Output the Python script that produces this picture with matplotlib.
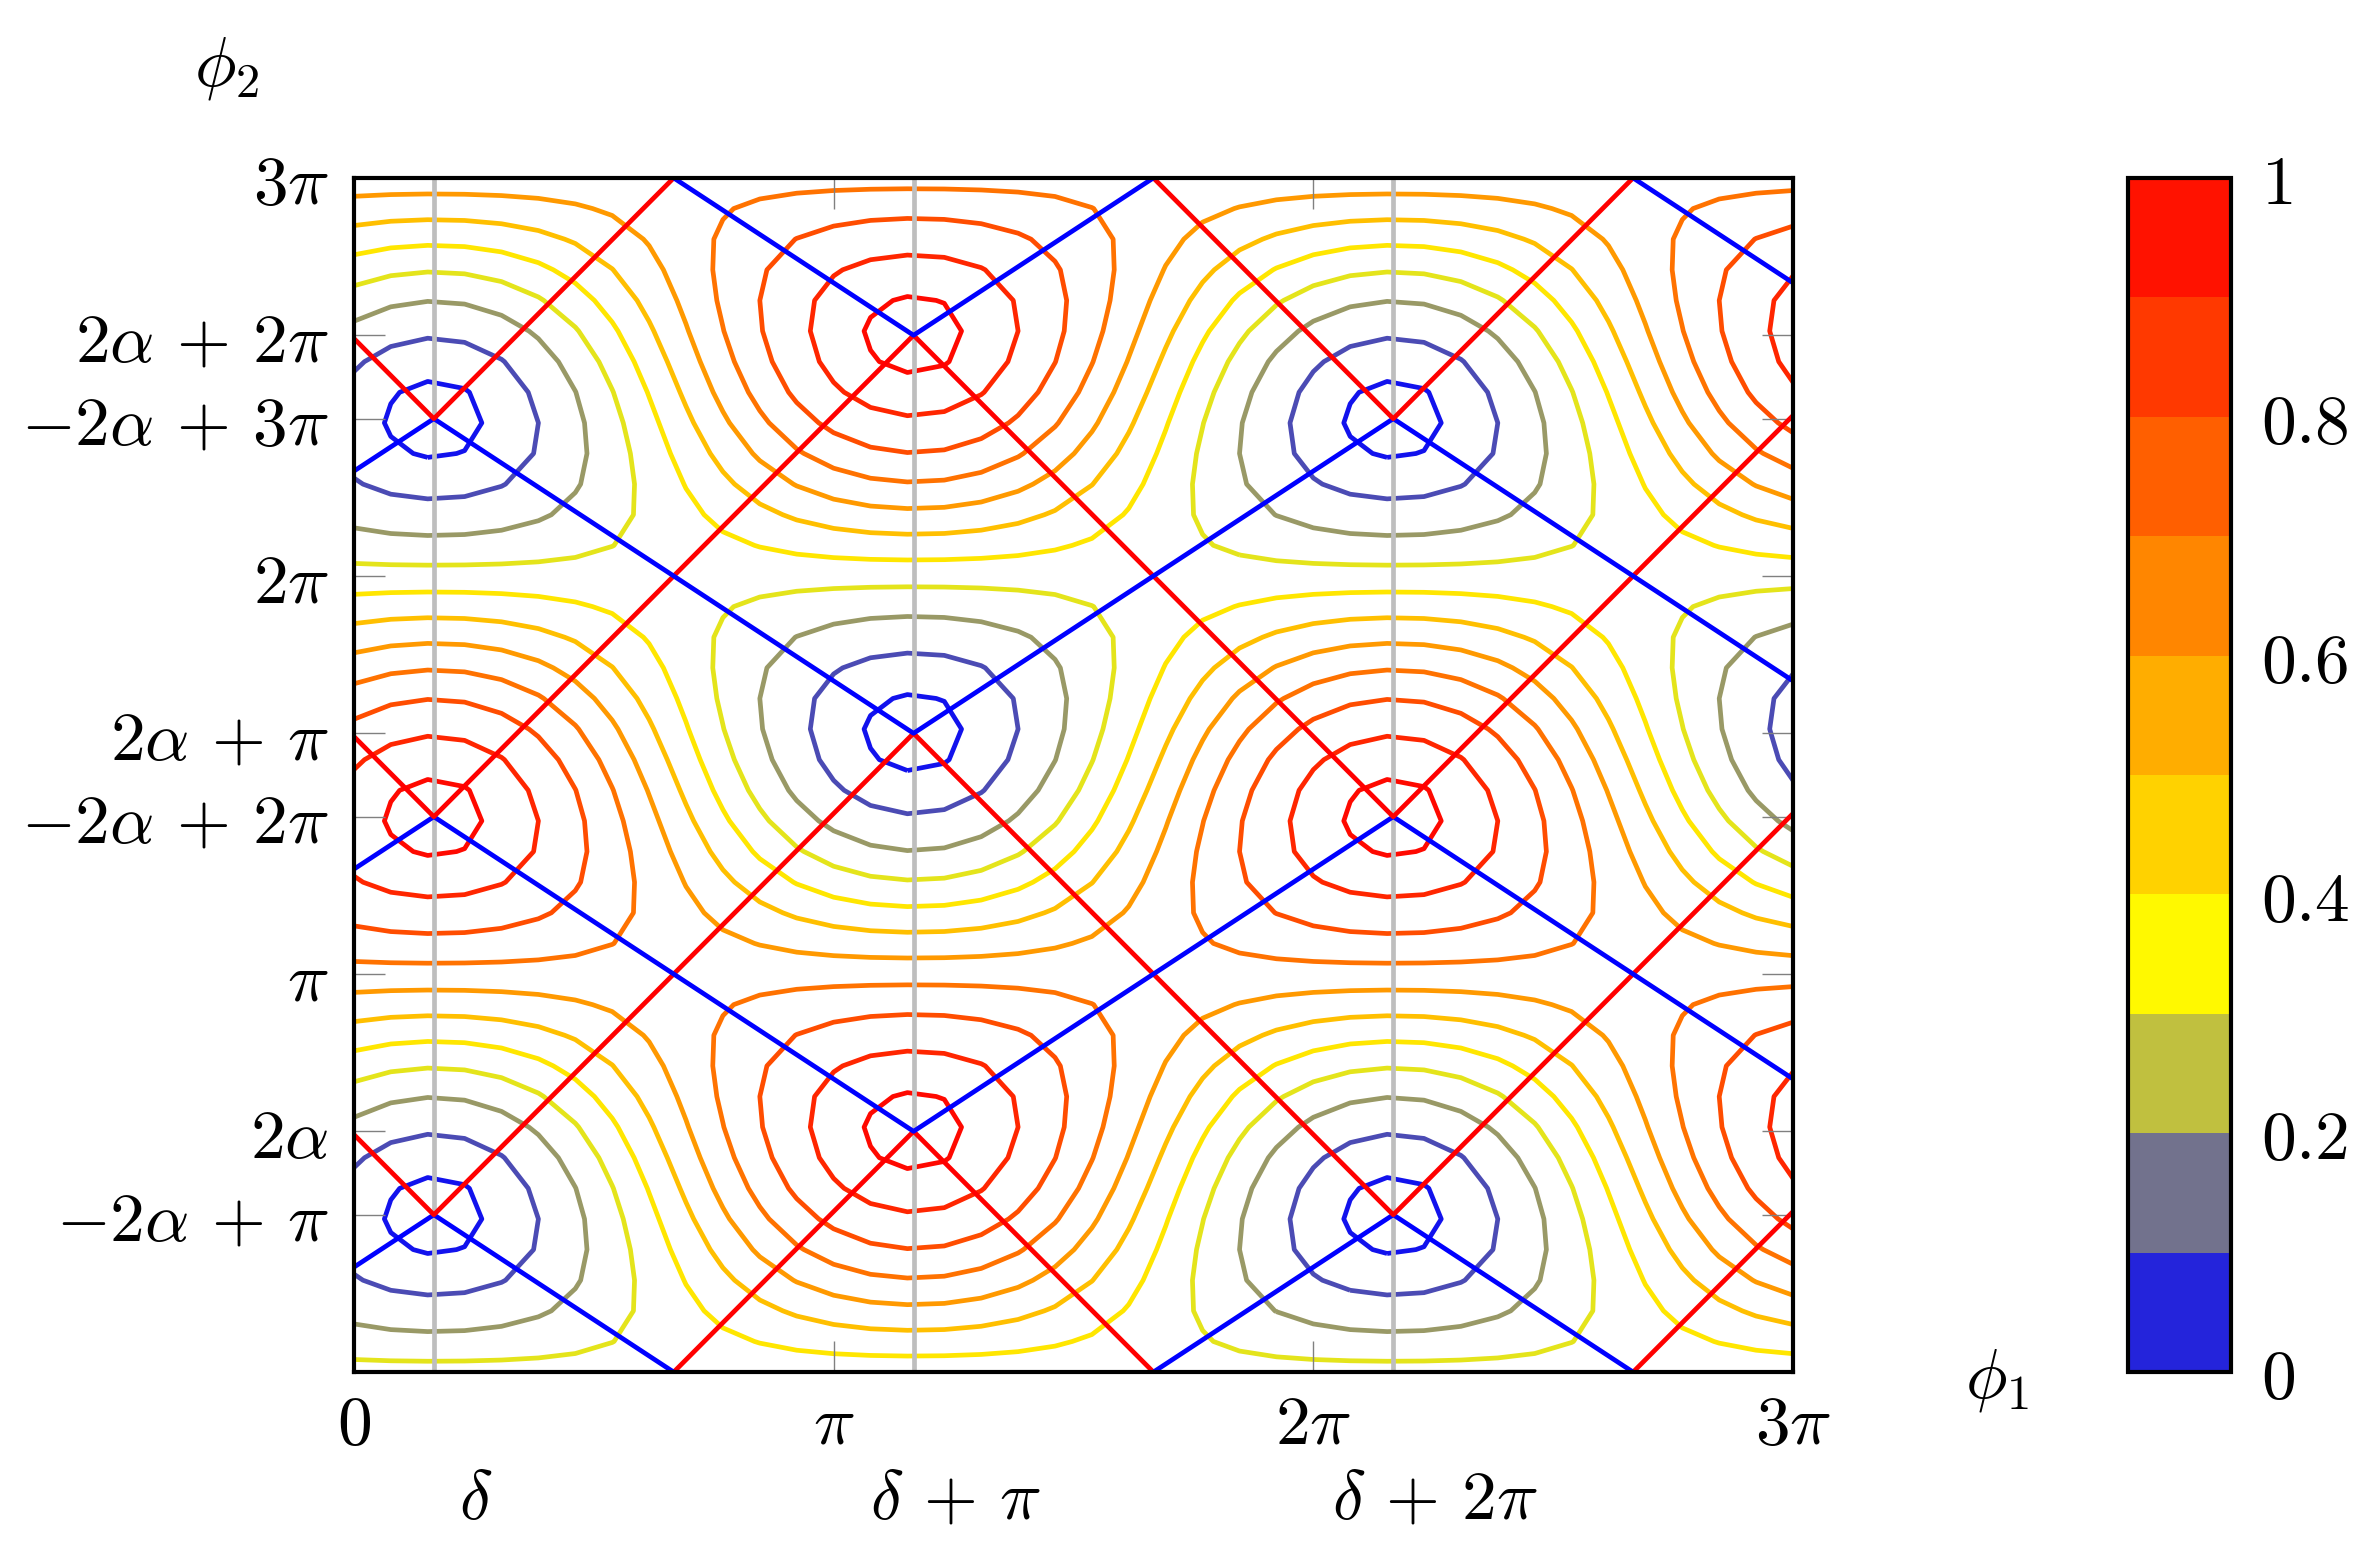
"""Contour map of f(phi1, phi2) with the red/blue zigzag lines and a banded colorbar."""

import numpy as np
import matplotlib
matplotlib.use("Agg")
import matplotlib.pyplot as plt
import matplotlib.transforms as mtransforms
from matplotlib.colors import LinearSegmentedColormap, ListedColormap, BoundaryNorm
from matplotlib.cm import ScalarMappable

plt.rcParams["mathtext.fontset"] = "cm"
plt.rcParams["font.family"] = ["DejaVu Serif"]

# parameters
DELTA = np.pi / 6
ALPHA = 0.95
N_SAMPLES = 40
LEVELS = [0.025, 0.1, 0.2, 0.3, 0.4, 0.5, 0.6, 0.7, 0.8, 0.9, 0.975]

X_TICKS = [0, np.pi, 2 * np.pi, 3 * np.pi]
X_LABELS = [r"$0$", r"$\pi$", r"$2\pi$", r"$3\pi$"]
DELTA_TICKS = [DELTA, DELTA + np.pi, DELTA + 2 * np.pi]
DELTA_LABELS = [r"$\delta$", r"$\delta\,+\,\pi$", r"$\delta\,+\,2\pi$"]
Y_TICKS = [2 * ALPHA, np.pi - 2 * ALPHA, np.pi, 2 * ALPHA + np.pi,
           2 * np.pi - 2 * ALPHA, 2 * np.pi, 2 * ALPHA + 2 * np.pi,
           3 * np.pi - 2 * ALPHA, 3 * np.pi]
Y_LABELS = [r"$2\alpha$", r"$-2\alpha\,+\,\pi$", r"$\pi$", r"$2\alpha\,+\,\pi$",
            r"$-2\alpha\,+\,2\pi$", r"$2\pi$", r"$2\alpha\,+\,2\pi$",
            r"$-2\alpha\,+\,3\pi$", r"$3\pi$"]
CBAR_TICKS = [0, 0.2, 0.4, 0.6, 0.8, 1]
CBAR_LABELS = [r"$0$", r"$0.2$", r"$0.4$", r"$0.6$", r"$0.8$", r"$1$"]
LINE_OFFSETS = range(-1, 5)

FS = 25
LW = 1.7

cmap = LinearSegmentedColormap.from_list(
    "byr", [(0, "#0000ff"), (1 / 3, "#ffff00"), (1, "#ff0000")])
band_cmap = ListedColormap([cmap((i + 0.5) / 10) for i in range(10)])
band_norm = BoundaryNorm(np.linspace(0, 1, 11), 10)

phi = np.linspace(0, 3 * np.pi, N_SAMPLES)
P1, P2 = np.meshgrid(phi, phi)
F = 0.5 * (1 + np.cos(2 * ALPHA) * np.cos(P2)
           - np.sin(2 * ALPHA) * np.cos(P1 - DELTA) * np.sin(P2))


def tri(x):
    u = np.mod((x - DELTA) / np.pi, 2)
    return 1 - 2 * np.abs(u - 1)


fig = plt.figure(figsize=(11.86, 7.73), dpi=200)
ax = fig.add_axes([0.1492, 0.1125, 0.6067, 0.7724])
cax = fig.add_axes([0.8971, 0.1125, 0.0434, 0.7724])

ax.contour(P1, P2, F, levels=LEVELS, cmap=cmap, vmin=0, vmax=1,
           linewidths=LW, zorder=1)

for x in DELTA_TICKS:
    ax.axvline(x, color="#bebebe", lw=LW, zorder=2)

xs = np.sort(np.r_[0, 3 * np.pi, DELTA_TICKS])
for n in LINE_OFFSETS:
    ax.plot(xs, n * np.pi + 2 * ALPHA * tri(xs), color="#ff0000", lw=LW, zorder=3)
    ax.plot(xs, n * np.pi - (np.pi - 2 * ALPHA) * tri(xs), color="#0000ff", lw=LW, zorder=3)

ax.set_xlim(0, 3 * np.pi)
ax.set_ylim(0, 3 * np.pi)
ax.set_xticks(X_TICKS)
ax.set_xticklabels(X_LABELS, fontsize=FS)
ax.set_xticks(DELTA_TICKS, minor=True)
ax.set_yticks(Y_TICKS)
ax.set_yticklabels(Y_LABELS, fontsize=FS)
ax.tick_params(which="both", direction="in", length=11, width=0.5, color="#808080",
               top=True, right=True)
ax.tick_params(axis="x", pad=7)
ax.tick_params(axis="y", pad=9)
for s in ax.spines.values():
    s.set_linewidth(1.5)
    s.set_zorder(5)

sec = ax.secondary_xaxis("bottom")
sec.set_xticks(DELTA_TICKS)
sec.set_xticklabels(DELTA_LABELS, fontsize=FS)
sec.tick_params(length=0, pad=34)
sec.spines["bottom"].set_visible(False)
shift = mtransforms.ScaledTranslation(0.21, 0, fig.dpi_scale_trans)
for lab in sec.get_xticklabels():
    lab.set_transform(lab.get_transform() + shift)

fig.text(227 / 2372, 1 - 68 / 1546, r"$\phi_2$", fontsize=FS, ha="center", va="center")
fig.text(1997 / 2372, 1 - 1380 / 1546, r"$\phi_1$", fontsize=FS, ha="center", va="center")

cb = fig.colorbar(ScalarMappable(norm=band_norm, cmap=band_cmap), cax=cax,
                  ticks=CBAR_TICKS)
cb.ax.set_yticklabels(CBAR_LABELS, fontsize=FS)
cb.ax.tick_params(length=0, pad=11)
cb.ax.minorticks_off()
cb.outline.set_linewidth(1.5)

fig.savefig("out.png", dpi=200)
plt.close(fig)
